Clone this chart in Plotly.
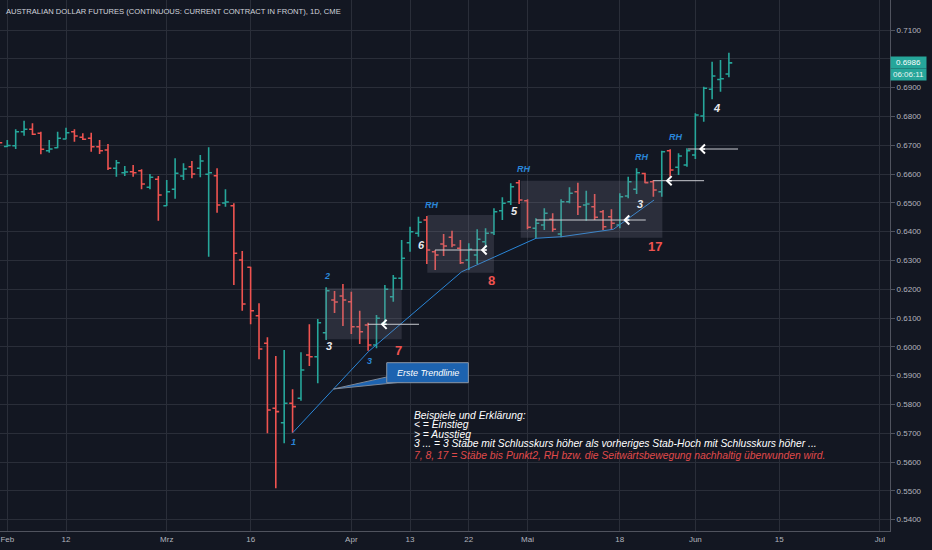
import plotly.graph_objects as go

# ---------------- data ----------------
bar_index = list(range(-1, 87))
open_ = [0.6725, 0.66955, 0.66983, 0.67469, 0.67552, 0.67413, 0.66809, 0.66913, 0.67216, 0.67469,
         0.67275, 0.67240, 0.66948, 0.66834, 0.66198, 0.66046, 0.66080, 0.66115, 0.65539, 0.65816,
         0.64900, 0.65469, 0.65931, 0.66254, 0.66198, 0.65990, 0.65941, 0.64993, 0.64900, 0.63014,
         0.62761, 0.61080, 0.60122, 0.57865, 0.57365, 0.58039, 0.58212, 0.59716, 0.59657, 0.60490,
         0.61625, 0.61764, 0.61566, 0.60698, 0.60757, 0.60063, 0.60816, 0.61740, 0.62379, 0.63615,
         0.63941, 0.64403, 0.63302, 0.63570, 0.63802, 0.63421, 0.63014, 0.63188, 0.63650, 0.63962,
         0.64726, 0.65038, 0.65698, 0.65073, 0.64115, 0.64229, 0.64427, 0.63917, 0.65038, 0.65386,
         0.64924, 0.64865, 0.64691, 0.64518, 0.64229, 0.65236, 0.65469, 0.6602, 0.65733, 0.65386,
         0.66809, 0.66233, 0.66313, 0.66660, 0.68014, 0.68941, 0.6928, 0.69473]
high = [0.6732, 0.67181, 0.67552, 0.67851, 0.67761, 0.67469, 0.67181, 0.67469, 0.67608, 0.67552,
        0.67413, 0.67434, 0.67181, 0.67042, 0.66486, 0.66278, 0.66313, 0.66164, 0.66000, 0.65931,
        0.65792, 0.66546, 0.66372, 0.66452, 0.66660, 0.66927, 0.66198, 0.65469, 0.64983, 0.63327,
        0.62782, 0.61511, 0.60330, 0.59681, 0.59889, 0.58525, 0.59809, 0.60782, 0.60966, 0.62066,
        0.61938, 0.62181, 0.61914, 0.61254, 0.60837, 0.61105, 0.62146, 0.62493, 0.63709, 0.64171,
        0.64518, 0.64542, 0.63361, 0.63917, 0.64032, 0.63709, 0.63594, 0.64080, 0.64115, 0.64809,
        0.65191, 0.65677, 0.65792, 0.65122, 0.64462, 0.64809, 0.64636, 0.65122, 0.65539, 0.65698,
        0.65421, 0.65306, 0.64750, 0.64775, 0.65330, 0.65907, 0.66198, 0.6604, 0.65792, 0.66809,
        0.66858, 0.66719, 0.66893, 0.68108, 0.69032, 0.69900, 0.69959, 0.70212]
low = [0.67042, 0.66938, 0.66868, 0.67330, 0.67354, 0.66684, 0.66740, 0.66893, 0.67205, 0.67122,
       0.67181, 0.66775, 0.66695, 0.66139, 0.65907, 0.65931, 0.65907, 0.65469, 0.65469, 0.64379,
       0.64889, 0.65143, 0.65792, 0.65851, 0.65886, 0.63129, 0.64657, 0.64865, 0.62146, 0.61254,
       0.60782, 0.59566, 0.56997, 0.55087, 0.56650, 0.57018, 0.58129, 0.59334, 0.58733, 0.60236,
       0.61174, 0.60723, 0.60445, 0.60098, 0.59865, 0.59948, 0.60757, 0.61566, 0.61973, 0.63302,
       0.63823, 0.62875, 0.62667, 0.63153, 0.63455, 0.62875, 0.62667, 0.62875, 0.63421, 0.63882,
       0.64403, 0.64924, 0.64958, 0.64080, 0.63767, 0.64055, 0.63997, 0.63802, 0.64983, 0.64577,
       0.64379, 0.64403, 0.64055, 0.64055, 0.64115, 0.65157, 0.65306, 0.65677, 0.65212, 0.65212,
       0.65907, 0.65966, 0.66254, 0.66521, 0.67816, 0.68594, 0.68858, 0.69358]
close = [0.67087, 0.66990, 0.67469, 0.67552, 0.67379, 0.66858, 0.66868, 0.67240, 0.67434, 0.67320,
         0.67205, 0.66948, 0.66809, 0.66198, 0.66393, 0.66070, 0.66046, 0.65653, 0.65886, 0.65271,
         0.65386, 0.66025, 0.66174, 0.66000, 0.66452, 0.66046, 0.64924, 0.65028, 0.63247, 0.61486,
         0.61254, 0.59924, 0.57806, 0.5775, 0.58039, 0.57921, 0.59195, 0.59657, 0.60837, 0.61948,
         0.61556, 0.61625, 0.60698, 0.60525, 0.60063, 0.60990, 0.61997, 0.62379, 0.63073, 0.63997,
         0.64323, 0.63361, 0.63188, 0.63500, 0.63535, 0.62921, 0.63386, 0.63733, 0.63941, 0.64691,
         0.64983, 0.65559, 0.65097, 0.64149, 0.64288, 0.64636, 0.64080, 0.65038, 0.65330, 0.64865,
         0.64958, 0.64497, 0.64171, 0.64288, 0.65212, 0.65733, 0.66046, 0.6570, 0.65445, 0.66775,
         0.66139, 0.66625, 0.66809, 0.68049, 0.68976, 0.69403, 0.6931, 0.6986]

date_tick_index = [0, 7, 19, 29, 41, 48, 55, 62, 73, 82, 92, 104]
date_tick_text = ["Feb", "12", "Mrz", "16", "Apr", "13", "22", "Mai", "18", "Jun", "15", "Jul"]
price_ticks = [round(0.54 + 0.01 * i, 2) for i in range(18)]
price_tick_text = ["" if abs(p - 0.70) < 1e-9 else f"{p:.4f}" for p in price_ticks]

last_price = 0.6986
countdown = "06:06:11"
title_text = "AUSTRALIAN DOLLAR FUTURES (CONTINUOUS: CURRENT CONTRACT IN FRONT), 1D, CME"

# annotation geometry (bar index, price)
boxes = [(37.85, 47.0, 0.6026, 0.6203), (50.06, 58.0, 0.6257, 0.6458), (61.19, 78.07, 0.6379, 0.6577)]
trend_x = [34.02, 43.03, 54.16, 63.01, 66.08, 72.23, 77.08]
trend_y = [0.57018, 0.59830, 0.62608, 0.63768, 0.63823, 0.64080, 0.65097]
# (x_start, x_end, x_tip, price)
entry_arrows = [(42.99, 49.07, 44.5, 0.60782), (50.98, 57.14, 56.42, 0.63361),
                (63.01, 76.09, 73.42, 0.64403), (77.0, 83.04, 78.47, 0.65768),
                (81.13, 87.09, 82.44, 0.66868)]
exit_marks = [(49.9, 0.64334), (61.0, 0.65504), (75.9, 0.65601), (78.95, 0.66271)]
blue_labels = [("1", 34.14, 0.56705), ("2", 38.14, 0.62459), ("3", 43.11, 0.59518),
               ("RH", 50.58, 0.64924), ("RH", 61.58, 0.66174), ("RH", 75.69, 0.66580),
               ("RH", 79.67, 0.67275)]
white_labels = [("3", 38.38, 0.60028), ("6", 49.39, 0.63535), ("5", 60.39, 0.64716),
                ("3", 75.41, 0.64959), ("4", 84.47, 0.68282)]
red_labels = [("7", 46.6, 0.59889), ("8", 57.73, 0.62295), ("17", 77.2, 0.63476)]
notes_white = ["Beispiele und Erklärung:", "< = Einstieg", "> = Ausstieg",
               "3 ... = 3 Stäbe mit Schlusskurs höher als vorheriges Stab-Hoch mit Schlusskurs höher ..."]
notes_white_y = [0.57598, 0.57285, 0.56972, 0.56650]
note_red = "7, 8, 17 = Stäbe bis Punkt2, RH bzw. die Seitwärtsbewegung nachhaltig überwunden wird."
note_red_y = 0.56243
notes_x = 48.24

UP = "#26a69a"
DOWN = "#ef5350"
BG = "#131722"
GRID = "#2a2e39"
BLUE = "#2a86d8"
FONT = "Liberation Sans, Arial, sans-serif"

fig = go.Figure()
fig.add_trace(go.Ohlc(
    x=bar_index, open=open_, high=high, low=low, close=close,
    increasing=dict(line=dict(color=UP, width=1.6)),
    decreasing=dict(line=dict(color=DOWN, width=1.6)),
    tickwidth=0.4, hoverinfo="skip", showlegend=False))

fig.add_trace(go.Scatter(x=trend_x, y=trend_y, mode="lines",
                         line=dict(color=BLUE, width=1), hoverinfo="skip", showlegend=False))

shapes = []
for x0, x1, y0, y1 in boxes:
    shapes.append(dict(type="rect", xref="x", yref="y", x0=x0, x1=x1, y0=y0, y1=y1,
                       fillcolor="rgba(130,134,150,0.22)", line=dict(width=0), layer="above"))
for xs, xe, xt, p in entry_arrows:
    shapes.append(dict(type="line", xref="x", yref="y", x0=xs, x1=xe, y0=p, y1=p,
                       line=dict(color="#c9cbd1", width=1), layer="above"))
# callout wedge and box
shapes.append(dict(type="path", xref="x", yref="y",
                   path="M 38.88,0.58535 L 45.8,0.5899 L 47.2,0.5878 Z",
                   fillcolor="#1d63b0", line=dict(color="#7d8898", width=1), layer="above"))
shapes.append(dict(type="rect", xref="x", yref="y", x0=45.22, x1=54.95, y0=0.58753, y1=0.59448,
                   fillcolor="#1d63b0", line=dict(color="#8c96a5", width=1), layer="above"))

ann = []
ann.append(dict(xref="paper", yref="paper", x=0.005, y=1 - 11.5 / 531, xanchor="left", yanchor="middle",
                text=title_text, showarrow=False, font=dict(family=FONT, size=7.6, color="#d1d4dc")))
for xs, xe, xt, p in entry_arrows:
    ann.append(dict(x=xt, y=p, ax=xt + 0.9, ay=p, xref="x", yref="y", axref="x", ayref="y",
                    text="", showarrow=True, arrowhead=4, arrowsize=1.25, arrowwidth=1.4,
                    arrowcolor="#ffffff"))
for xt, p in exit_marks:
    ann.append(dict(x=xt, y=p, ax=xt - 0.35, ay=p, xref="x", yref="y", axref="x", ayref="y",
                    text="", showarrow=True, arrowhead=4, arrowsize=1.25, arrowwidth=1.4,
                    arrowcolor="#ffffff"))
for t, x, y in blue_labels:
    ann.append(dict(x=x, y=y, xref="x", yref="y", text=f"<b><i>{t}</i></b>", showarrow=False,
                    font=dict(family=FONT, size=9, color=BLUE)))
for t, x, y in white_labels:
    ann.append(dict(x=x, y=y, xref="x", yref="y", text=f"<b><i>{t}</i></b>", showarrow=False,
                    font=dict(family=FONT, size=11, color="#e8e9ec")))
for t, x, y in red_labels:
    ann.append(dict(x=x, y=y, xref="x", yref="y", text=f"<b>{t}</b>", showarrow=False,
                    font=dict(family=FONT, size=13, color=DOWN)))
ann.append(dict(x=50.08, y=0.59101, xref="x", yref="y", text="<i>Erste Trendlinie</i>", showarrow=False,
                font=dict(family=FONT, size=9, color="#ffffff")))
for t, y in zip(notes_white, notes_white_y):
    ann.append(dict(x=notes_x, y=y, xref="x", yref="y", xanchor="left", yanchor="middle",
                    text=f"<i>{t}</i>", showarrow=False,
                    font=dict(family=FONT, size=10.3, color="#ffffff")))
ann.append(dict(x=notes_x, y=note_red_y, xref="x", yref="y", xanchor="left", yanchor="middle",
                text=f"<i>{note_red}</i>", showarrow=False,
                font=dict(family=FONT, size=10.3, color="#e04a4a")))
# price tag and countdown
ann.append(dict(xref="paper", yref="y", x=1.0, y=last_price, xanchor="left", yanchor="middle",
                text=f"{last_price:.4f}", showarrow=False, bgcolor=UP, borderpad=1, width=33,
                font=dict(family=FONT, size=8, color="#ffffff")))
ann.append(dict(xref="paper", yref="y", x=1.0, y=0.69470, xanchor="left", yanchor="middle",
                text=countdown, showarrow=False, bgcolor=UP, borderpad=1, width=33,
                font=dict(family=FONT, size=8, color="#e8f5f3")))

fig.update_layout(
    width=932, height=550,
    paper_bgcolor=BG, plot_bgcolor=BG,
    margin=dict(l=0, r=42, t=0, b=19, autoexpand=False),
    showlegend=False,
    shapes=shapes, annotations=ann,
    xaxis=dict(range=[-0.87, 105.2], tickmode="array", tickvals=date_tick_index, ticktext=date_tick_text,
               showgrid=True, gridcolor=GRID, gridwidth=1, zeroline=False,
               showline=True, linecolor="#50535e", linewidth=1, ticks="",
               ticklabeloverflow="allow", automargin=False,
               tickfont=dict(family=FONT, size=8, color="#b2b5be"),
               rangeslider=dict(visible=False), fixedrange=True),
    yaxis=dict(range=[0.53604, 0.72042], side="right", tickmode="array", tickvals=price_ticks,
               ticktext=price_tick_text, showgrid=True, gridcolor=GRID, gridwidth=1, zeroline=False,
               showline=True, linecolor="#50535e", linewidth=1, ticks="outside", ticklen=4,
               tickcolor="#50535e", automargin=False,
               tickfont=dict(family=FONT, size=8, color="#b2b5be"),
               fixedrange=True),
)

fig.write_html("out.html", config={"displayModeBar": False},
               post_script="document.body.style.margin='0px';")
